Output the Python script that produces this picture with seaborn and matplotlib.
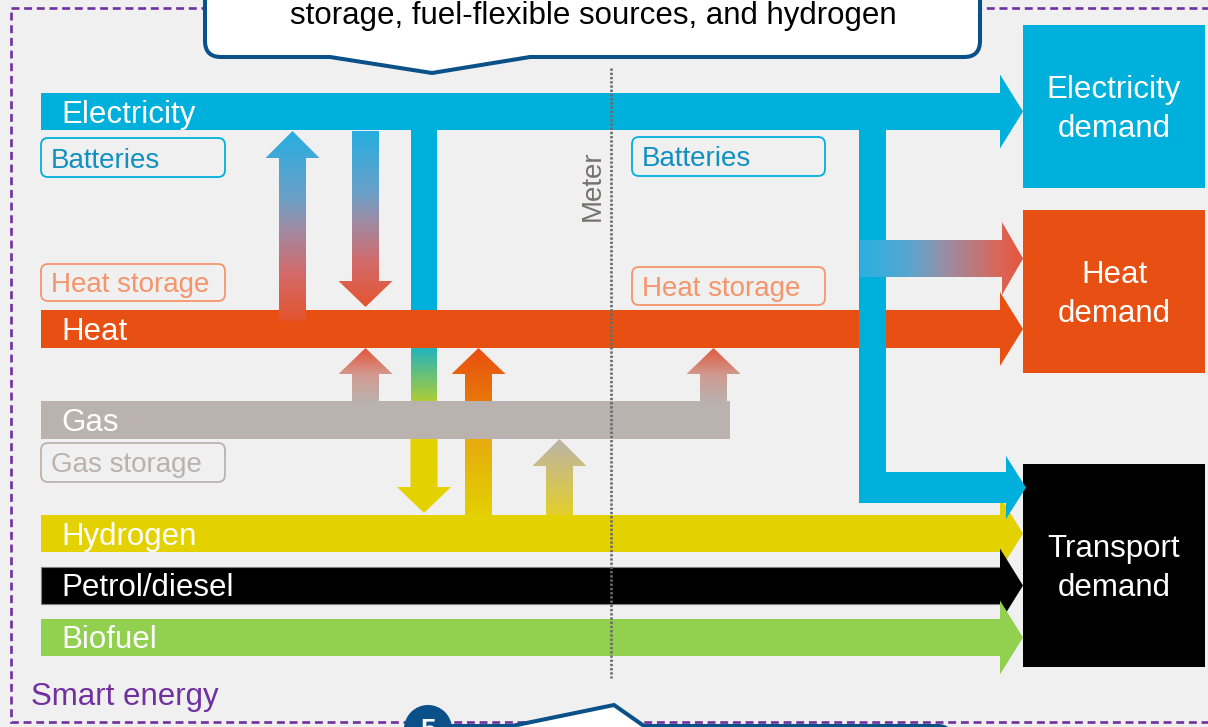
import numpy as np
import matplotlib
matplotlib.use("Agg")
import matplotlib.pyplot as plt
import seaborn as sns
from matplotlib.patches import Polygon, FancyBboxPatch, Rectangle, Circle, PathPatch
from matplotlib.path import Path
from matplotlib.colors import to_rgb

# ---------------- data (text & colours) ----------------
streams = ["Electricity", "Heat", "Gas", "Hydrogen", "Petrol/diesel", "Biofuel"]
stream_colors = ["#00b0dc", "#e84f12", "#bab2ae", "#e3d200", "#000000", "#92d050"]
storage_labels = ["Batteries", "Heat storage", "Gas storage", "Batteries", "Heat storage"]
storage_colors = ["#00b0dc", "#f5956c", "#bab2ae", "#00b0dc", "#f5956c"]
storage_text_colors = ["#1190c2", "#f5956c", "#bab2ae", "#1190c2", "#f5956c"]
demand_line1 = ["Electricity", "Heat", "Transport"]
demand_line2 = ["demand", "demand", "demand"]
demand_colors = ["#00b0dc", "#e84f12", "#000000"]
caption = "storage, fuel-flexible sources, and hydrogen"
frame_label = "Smart energy"
meter_label = "Meter"
step_number = "5"

# ---------------- layout (pixel space) ----------------
BG = "#f0f0f0"
W, H = 1208, 727
stream_top = [93, 310, 401, 515, 567, 619]
stream_bot = [130, 348, 439, 552, 604, 656]
stream_end = [1000, 1000, 729, 1000, 1000, 1000]
stream_head = [True, True, False, True, True, True]
BAR_X0 = 41
HEAD_TIP = 1023
HEAD_HALF = 37

storage_boxes = [(41, 138, 225, 177), (41, 264, 225, 301), (41, 443, 225, 482),
                 (632, 137, 825, 176), (632, 267, 825, 305)]
demand_boxes = [(1023, 25, 1205, 188), (1023, 210, 1205, 373), (1023, 464, 1205, 667)]

BLUE_RED = [(0, "#26aee0"), (0.35, "#6aa0c8"), (0.52, "#a08aa2"), (0.75, "#d36a6a"), (1, "#e4542e")]

sns.set_theme(style="white")
plt.rcParams["font.family"] = ["Liberation Sans", "DejaVu Sans"]

fig = plt.figure(figsize=(W / 100, H / 100), dpi=100, facecolor=BG)
ax = fig.add_axes([0, 0, 1, 1])
ax.set_facecolor(BG)


def add_poly(pts, color, z, **kw):
    p = Polygon(pts, closed=True, facecolor=color, edgecolor="none", zorder=z, **kw)
    ax.add_patch(p)
    return p


def grad_poly(pts, stops, z, vertical=True):
    poly = Polygon(pts, closed=True, facecolor="none", edgecolor="none", zorder=z)
    ax.add_patch(poly)
    xs = [p[0] for p in pts]
    ys = [p[1] for p in pts]
    x0, x1, y0, y1 = min(xs), max(xs), min(ys), max(ys)
    t = np.linspace(0, 1, 300)
    pos = [s[0] for s in stops]
    cols = np.array([to_rgb(s[1]) for s in stops])
    rgb = np.stack([np.interp(t, pos, cols[:, i]) for i in range(3)], axis=1)
    img = rgb[:, None, :] if vertical else rgb[None, :, :]
    im = ax.imshow(img, extent=(x0, x1, y1, y0), origin="upper", aspect="auto",
                   interpolation="bilinear", zorder=z)
    im.set_clip_path(poly)
    return im


def up_arrow(xc, tip, base, bottom, half_shaft=13.5, half_head=27):
    return [(xc - half_shaft, bottom), (xc - half_shaft, base), (xc - half_head, base),
            (xc, tip), (xc + half_head, base), (xc + half_shaft, base), (xc + half_shaft, bottom)]


def down_arrow(xc, top, base, tip, half_shaft=13.5, half_head=27):
    return [(xc - half_shaft, top), (xc - half_shaft, base), (xc - half_head, base),
            (xc, tip), (xc + half_head, base), (xc + half_shaft, base), (xc + half_shaft, top)]


# dashed frame
ax.add_patch(Rectangle((11, 8), W, 722 - 8, fill=False, edgecolor="#7030a0",
                       lw=1.9, ls=(0, (3, 1.8)), zorder=1))

# electricity vertical feeding hydrogen (under bars)
add_poly([(411, 111), (437, 111), (437, 349), (411, 349)], "#00b0dc", 2)
grad_poly([(411, 348), (437, 348), (437, 402), (411, 402)],
          [(0, "#22b4bc"), (1, "#b0cd35")], 2)
grad_poly(down_arrow(424, 420, 487, 513), [(0, "#e3d200"), (1, "#e3d200")], 2)

# horizontal stream bars
for i, name in enumerate(streams):
    top, bot = stream_top[i], stream_bot[i]
    yc = (top + bot) / 2
    ec = "#808080" if name == "Petrol/diesel" else "none"
    z = 3 + i * 0.01
    ax.barh(y=yc, width=stream_end[i] + 1 - BAR_X0, height=bot - top, left=BAR_X0,
            color=stream_colors[i], edgecolor=ec, linewidth=0.8, zorder=z)
    if stream_head[i]:
        add_poly([(stream_end[i], yc - HEAD_HALF), (HEAD_TIP, yc), (stream_end[i], yc + HEAD_HALF)],
                 stream_colors[i], z)
    ax.text(61, yc + 11, name, color="white", fontsize=22.5, va="baseline", ha="left", zorder=7)

# gradient vertical arrows
grad_poly(up_arrow(292.5, 131, 158, 321), BLUE_RED, 4)
grad_poly(down_arrow(365.5, 131, 281, 307), BLUE_RED, 4)
grad_poly(up_arrow(365.5, 348, 374, 402), [(0, "#e4553c"), (0.5, "#d29a90"), (1, "#bab2ae")], 4)
grad_poly(up_arrow(478.5, 348, 374, 515),
          [(0, "#e84f10"), (0.32, "#e8780a"), (0.54, "#e6aa10"), (1, "#e3d000")], 2.5)
grad_poly(up_arrow(559.5, 439, 466, 515), [(0, "#bdb3aa"), (1, "#e2cf2a")], 4)
grad_poly(up_arrow(713.5, 348, 374, 402), [(0, "#e05a40"), (0.5, "#d09a90"), (1, "#bab2ae")], 4)

# electricity branch to transport (over heat bar)
add_poly([(859, 111), (886, 111), (886, 472), (1006, 472), (1006, 456), (1026, 487.5),
          (1006, 519), (1006, 503), (859, 503)], "#00b0dc", 4.5)
# electricity -> heat demand gradient arrow
grad_poly([(860, 240), (1002, 240), (1002, 222), (1023, 258.5), (1002, 295), (1002, 277), (860, 277)],
          [(0, "#2ab0e2"), (0.3, "#58a6cf"), (0.55, "#a08aa0"), (0.85, "#d9675a"), (1, "#e4553c")],
          5, vertical=False)

# demand boxes
for (x0, y0, x1, y1), l1, l2, c in zip(demand_boxes, demand_line1, demand_line2, demand_colors):
    ax.add_patch(Rectangle((x0, y0), x1 - x0, y1 - y0, facecolor=c, edgecolor="none", zorder=3))
    cy = (y0 + y1) / 2
    xc = (x0 + x1) / 2
    ax.text(xc, cy - 8.5, l1, color="white", fontsize=22.5, ha="center", va="baseline", zorder=7)
    ax.text(xc, cy + 30.5, l2, color="white", fontsize=22.5, ha="center", va="baseline", zorder=7)

# storage label boxes
for (x0, y0, x1, y1), lab, ec, tc in zip(storage_boxes, storage_labels, storage_colors,
                                         storage_text_colors):
    ax.add_patch(FancyBboxPatch((x0, y0), x1 - x0, y1 - y0,
                                boxstyle="round,pad=0,rounding_size=7",
                                facecolor="none", edgecolor=ec, lw=1.3, zorder=3))
    ax.text(x0 + 10, (y0 + y1) / 2 + 10, lab, color=tc, fontsize=20, ha="left",
            va="baseline", zorder=7)

# meter line & label
ax.plot([611, 611], [68, 678], color="#6a6a6a", lw=1.9, ls=(0, (0.9, 0.7)), zorder=6,
        solid_capstyle="butt")
ax.text(593, 186, meter_label, rotation=90, color="#767171", fontsize=20,
        ha="center", va="center", zorder=7)

# "Smart energy"
ax.text(31, 705, frame_label, color="#7030a0", fontsize=22.5, ha="left", va="baseline", zorder=7)

# top callout
M, L, C = Path.MOVETO, Path.LINETO, Path.CURVE3
Lx, Rx, B, r = 205, 980, 57, 16
verts = [(Lx, -20), (Lx, B - r), (Lx, B), (Lx + r, B), (330, B), (432, 73), (530, B),
         (Rx - r, B), (Rx, B), (Rx, B - r), (Rx, -20)]
codes = [M, L, C, C, L, L, L, L, C, C, L]
ax.add_patch(PathPatch(Path(verts, codes), facecolor="white", edgecolor="#0a5089",
                       lw=2.9, zorder=8, joinstyle="miter"))
ax.text(593.5, 24, caption, color="black", fontsize=22.5, ha="center", va="baseline", zorder=9)

# bottom callout
verts2 = [(445, 745), (445, 726), (512, 726), (614, 705), (644, 726), (938, 726),
          (952, 726), (956, 745)]
codes2 = [M, L, L, L, L, L, C, C]
ax.add_patch(PathPatch(Path(verts2, codes2), facecolor="white", edgecolor="#0a5089",
                       lw=2.9, zorder=8, joinstyle="miter"))
ax.add_patch(Circle((428, 729), 24, facecolor="#0a5089", edgecolor="none", zorder=9))
ax.text(428, 738, step_number, color="white", fontsize=20, fontweight="bold",
        ha="center", va="baseline", zorder=10)

ax.set_xlim(0, W)
ax.set_ylim(H, 0)
ax.axis("off")
fig.savefig("out.png", dpi=100, facecolor=BG)
